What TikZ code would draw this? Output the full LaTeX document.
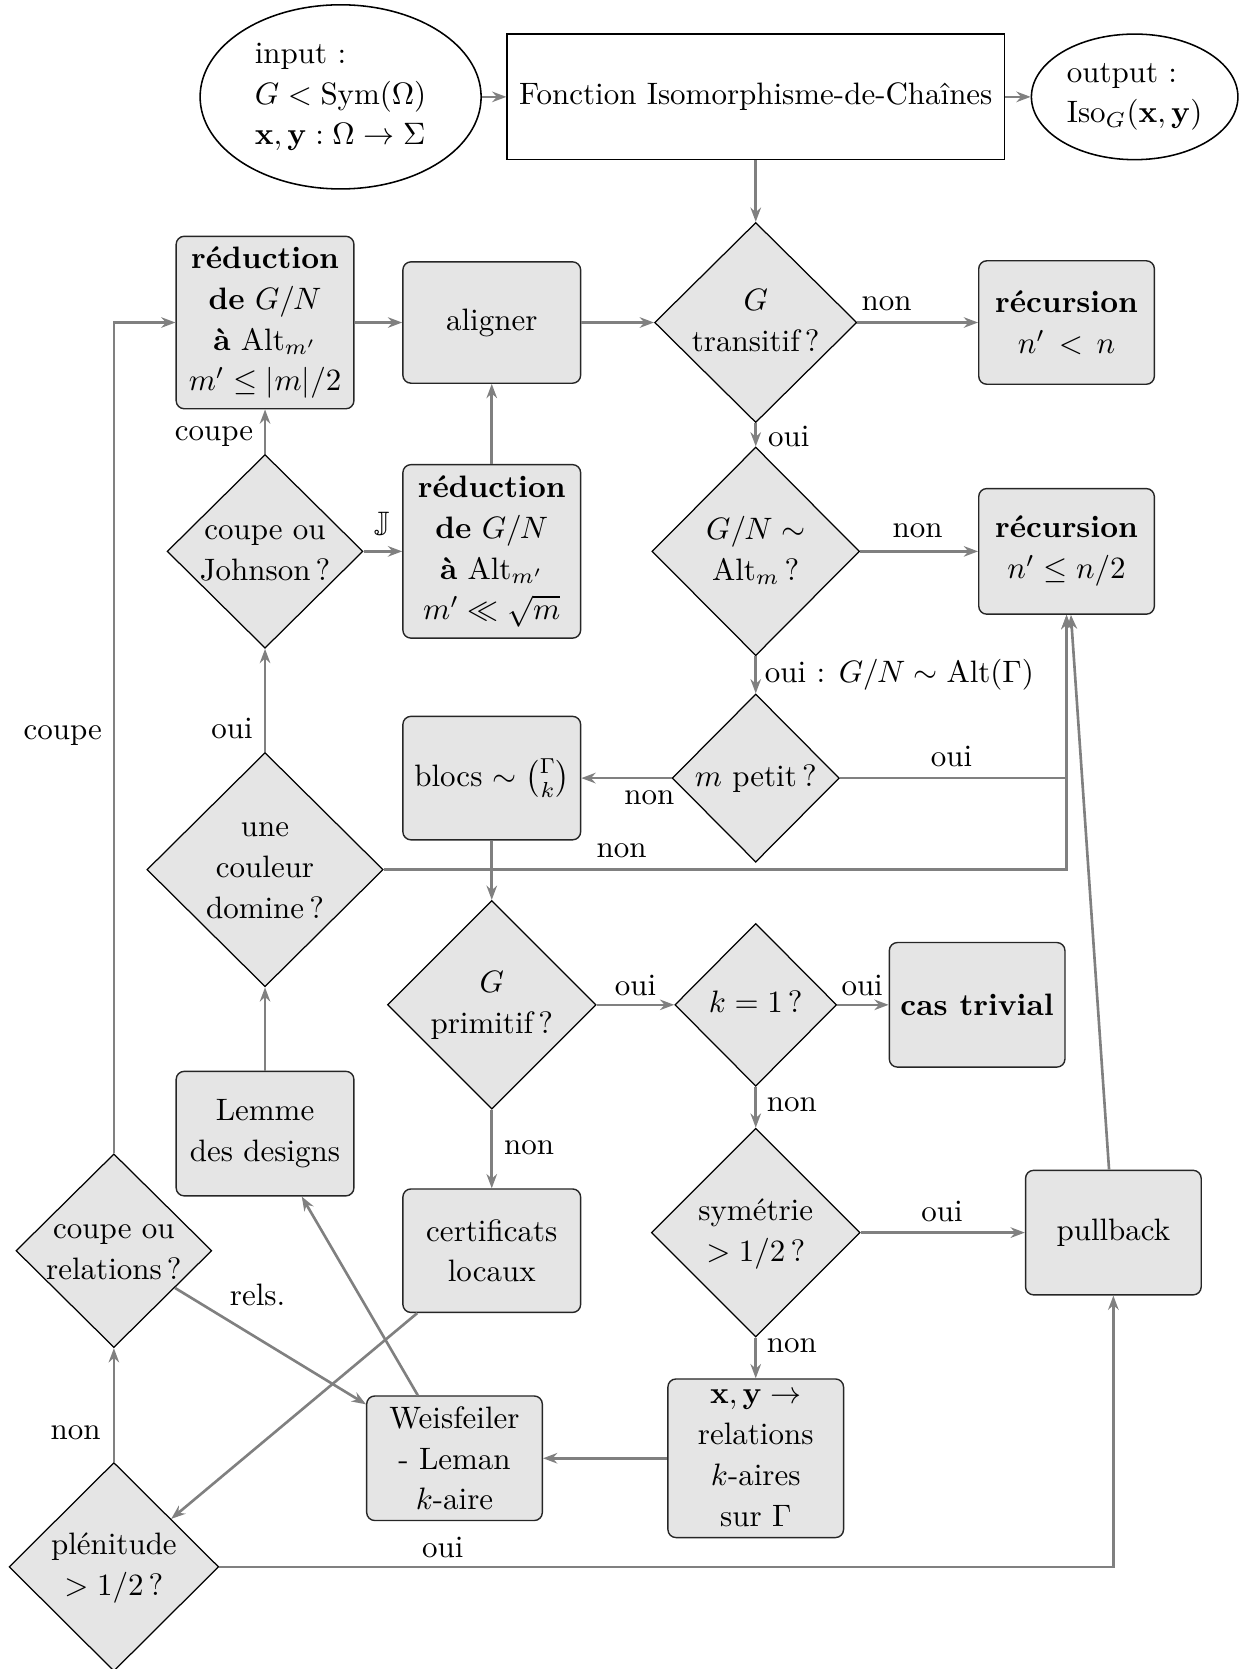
\documentclass[tikz,border=0pt]{standalone}
\usepackage{amsmath,amssymb}
\usetikzlibrary{shapes.geometric,arrows.meta}
\newcommand{\PX}{0.3436pt}
\newcommand{\dlines}[1]{\makebox[0pt]{\raisebox{-2.5pt}[0pt][0pt]{\begin{tabular}{@{}c@{}}#1\end{tabular}}}}
\begin{document}
\begin{tikzpicture}[x=\PX, y=-\PX,
  every node/.style={font=\fontsize{10}{13.2}\selectfont},
  box/.style={rectangle, rounded corners=2.6pt, draw=black!85, line width=0.45pt, fill=gray!20, align=center, inner sep=0pt},
  dec/.style={diamond, draw=black, line width=0.4pt, fill=gray!20, inner sep=0pt},
  sz/.style 2 args={minimum width=#1*\PX, minimum height=#2*\PX},
  arr/.style={draw=gray, line width=0.85pt, -{Stealth[length=4.6pt,width=3.4pt,inset=1.5pt]}},
  lbl/.style={inner sep=0pt}]
\useasboundingbox (0,0) rectangle (1166,1568);

% top row
\node[ellipse, draw, line width=0.5pt, fill=white, inner sep=0pt, sz={264}{173}, align=left] (in) at (320,91)
  {input :\\ $G<\mathrm{Sym}(\Omega)$\\ $\mathbf{x},\mathbf{y}:\Omega\to\Sigma$};
\node[rectangle, draw, line width=0.5pt, fill=white, sz={467}{118}] (fonc) at (710,91) {Fonction Isomorphisme-de-Chaînes};
\node[ellipse, draw, line width=0.5pt, fill=white, inner sep=0pt, sz={194}{118}, align=left] (out) at (1066,91)
  {output :\\ $\mathrm{Iso}_G(\mathbf{x},\mathbf{y})$};

% row 303
\node[box, sz={167}{162}] (red1) at (249,303) {\textbf{réduction}\\ \textbf{de} $G/N$\\ \textbf{à} $\mathrm{Alt}_{m'}$\\ $m'\leq|m|/2$};
\node[box, sz={167}{114}] (align) at (462,303) {aligner};
\node[dec, sz={190}{188}] (trans) at (710,303) {\dlines{$G$\\ transitif\,?}};
\node[box, sz={165}{116}] (rec1) at (1002,303) {\textbf{récursion}\\ $n' \,<\, n$};

% row 518
\node[dec, sz={184}{182}] (john) at (249,518) {\dlines{coupe ou\\ Johnson\,?}};
\node[box, sz={167}{163}] (red2) at (462,518) {\textbf{réduction}\\ \textbf{de} $G/N$\\ \textbf{à} $\mathrm{Alt}_{m'}$\\ $m'\ll\sqrt{m}$};
\node[dec, sz={195}{196}] (gnalt) at (710,518) {\dlines{$G/N\sim$\\ $\mathrm{Alt}_m$\,?}};
\node[box, sz={165}{118}] (rec2) at (1002,518) {\textbf{récursion}\\ $n'\leq n/2$};

% row 731
\node[box, sz={167}{116}] (blocs) at (462,731) {blocs $\sim\binom{\Gamma}{k}$};
\node[dec, sz={157}{158}] (mpetit) at (710,731) {\dlines{$m$ petit\,?}};
\node[dec, sz={222}{220}] (coul) at (249,817) {\dlines{une\\ couleur\\ domine\,?}};

% row 944
\node[dec, sz={196}{196}] (prim) at (462,944) {\dlines{$G$\\ primitif\,?}};
\node[dec, sz={152}{153}] (kun) at (710,944) {\dlines{$k=1$\,?}};
\node[box, sz={165}{117}] (triv) at (918,944) {\textbf{cas trivial}};

\node[box, sz={167}{117}] (lemme) at (249,1065) {Lemme\\ des designs};
\node[box, sz={167}{116}] (cert) at (462,1175) {certificats\\ locaux};
\node[dec, sz={196}{196}] (sym) at (710,1158) {\dlines{symétrie\\ $>1/2$\,?}};
\node[box, sz={165}{117}] (pull) at (1046,1158) {pullback};
\node[dec, sz={184}{182}] (corel) at (107,1175) {\dlines{coupe ou\\ relations\,?}};

\node[box, sz={165}{117}] (wl) at (427,1370) {Weisfeiler\\ - Leman\\ $k$-aire};
\node[box, sz={165}{149}] (xy) at (710,1370) {$\mathbf{x},\mathbf{y}\to$\\ relations\\ $k$-aires\\ sur $\Gamma$};
\node[dec, sz={197}{196}] (plen) at (107,1472) {\dlines{plénitude\\ $>1/2$\,?}};

% connectors
\draw[arr] (in) -- (fonc);
\draw[arr] (fonc) -- (out);
\draw[arr] (fonc) -- (trans);
\draw[arr] (red1) -- (align);
\draw[arr] (align) -- (trans);
\draw[arr] (trans) -- (rec1);
\draw[arr] (trans) -- (gnalt);
\draw[arr] (gnalt) -- (rec2);
\draw[arr] (gnalt) -- (mpetit);
\draw[arr] (mpetit) -- (blocs);
\draw[arr] (mpetit.east) -| (rec2.south);
\draw[arr] (coul.east) -| (rec2.south);
\draw[arr] (pull) -- (rec2);
\draw[arr] (blocs) -- (prim);
\draw[arr] (prim) -- (kun);
\draw[arr] (kun) -- (triv);
\draw[arr] (kun) -- (sym);
\draw[arr] (sym) -- (pull);
\draw[arr] (sym) -- (xy);
\draw[arr] (xy) -- (wl);
\draw[arr] (prim) -- (cert);
\draw[arr] (cert) -- (plen);
\draw[arr] (wl) -- (lemme);
\draw[arr] (lemme) -- (coul);
\draw[arr] (coul) -- (john);
\draw[arr] (john) -- (red2);
\draw[arr] (john) -- (red1);
\draw[arr] (red2) -- (align);
\draw[arr] (corel.north) |- (red1.west);
\draw[arr] (corel) -- (wl);
\draw[arr] (plen) -- (corel);
\draw[arr] (plen.east) -| (pull.south);

% labels
\node[lbl] (l1) at (833,285) {non};
\node[lbl] (l2) at (741,410) {oui};
\node[lbl] (l3) at (862,499) {non};
\node[lbl, anchor=west] (l4) at (718,634) {oui : $G/N\sim\mathrm{Alt}(\Gamma)$};
\node[lbl] (l5) at (894,711) {oui};
\node[lbl] (l6) at (610,749) {non};
\node[lbl] (l7) at (584,799) {non};
\node[lbl] (l8) at (597,926) {oui};
\node[lbl] (l9) at (810,926) {oui};
\node[lbl] (l10) at (744,1038) {non};
\node[lbl] (l11) at (885,1138) {oui};
\node[lbl] (l12) at (744,1264) {non};
\node[lbl] (l13) at (497,1078) {non};
\node[lbl] (l14) at (218,684) {oui};
\node[lbl] (l15) at (359,494) {$\mathbb{J}$};
\node[lbl] (l16) at (201,410) {coupe};
\node[lbl] (l17) at (59,691) {coupe};
\node[lbl] (l18) at (242,1217) {rels.};
\node[lbl] (l19) at (71,1346) {non};
\node[lbl] (l20) at (416,1454) {oui};
\end{tikzpicture}
\end{document}
